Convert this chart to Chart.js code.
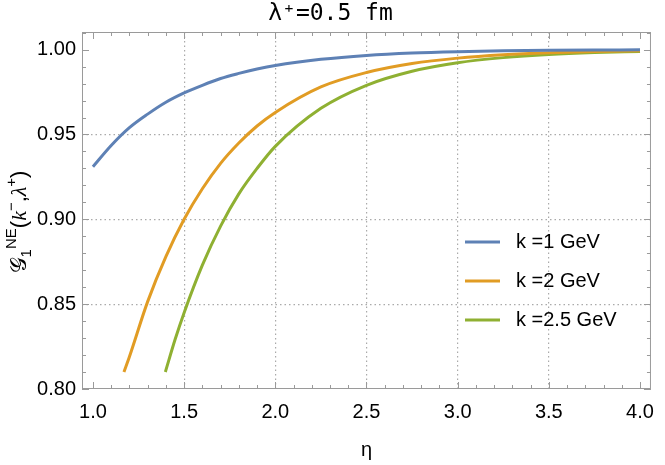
<!DOCTYPE html>
<html>
<head>
<meta charset="utf-8">
<script src="https://cdn.jsdelivr.net/npm/chart.js@4.4.0/dist/chart.umd.min.js"></script>
<style>
html, body { margin: 0; padding: 0; background: #fff; }
</style>
</head>
<body>
<canvas id="myChart" width="665" height="465"></canvas>
<script>
// podatki, odcitani s slike
const seriesLabels = ["k =1 GeV", "k =2 GeV", "k =2.5 GeV"];
const seriesColors = ["#5e81b5", "#e19c24", "#8fb032"];

const eta1 = [1.0, 1.1, 1.2, 1.3, 1.4, 1.5, 1.6, 1.7, 1.8, 1.9, 2.0, 2.25, 2.5, 2.75, 3.0, 3.25, 3.5, 3.75, 4.0];
const g1 = [0.931, 0.9435, 0.954, 0.962, 0.969, 0.9745, 0.979, 0.983, 0.986, 0.9886, 0.9907, 0.9943, 0.9966, 0.998, 0.9988, 0.9993, 0.9996, 0.9998, 0.9999];

const eta2 = [1.17, 1.2, 1.3, 1.4, 1.5, 1.6, 1.7, 1.8, 1.9, 2.0, 2.25, 2.5, 2.75, 3.0, 3.25, 3.5, 3.75, 4.0];
const g2 = [0.810, 0.819, 0.8515, 0.878, 0.900, 0.918, 0.933, 0.945, 0.955, 0.963, 0.978, 0.9865, 0.9918, 0.995, 0.997, 0.9982, 0.9989, 0.9993];

const eta3 = [1.397, 1.45, 1.5, 1.6, 1.7, 1.8, 1.9, 2.0, 2.25, 2.5, 2.75, 3.0, 3.25, 3.5, 3.75, 4.0];
const g3 = [0.810, 0.829, 0.845, 0.873, 0.896, 0.915, 0.930, 0.943, 0.9654, 0.979, 0.9873, 0.9923, 0.9953, 0.9972, 0.9983, 0.9989];

const xTicks = [1.0, 1.5, 2.0, 2.5, 3.0, 3.5, 4.0];
const yTicks = [0.80, 0.85, 0.90, 0.95, 1.00];
const xGrid = [1.5, 2.0, 2.5, 3.0, 3.5];
const yGrid = [0.85, 0.90, 0.95];

function toPoints(xs, ys) {
    return xs.map((v, i) => ({ x: v, y: ys[i] }));
}

// okvir z notranjimi oznakami (kot v Mathematici)
const framePlugin = {
    id: "frame",
    afterDraw(chart) {
        const { ctx, chartArea: a, scales } = chart;
        const x = scales.x, y = scales.y;
        ctx.save();
        ctx.strokeStyle = "#9a9a9a";
        ctx.lineWidth = 1;
        ctx.strokeRect(a.left + 0.5, a.top + 0.5, a.right - a.left - 1, a.bottom - a.top - 1);
        ctx.beginPath();
        for (let i = 10; i <= 40; i++) {
            const px = Math.round(x.getPixelForValue(i / 10)) + 0.5;
            const len = i % 5 === 0 ? 7 : 4;
            ctx.moveTo(px, a.bottom);
            ctx.lineTo(px, a.bottom - len);
            ctx.moveTo(px, a.top);
            ctx.lineTo(px, a.top + len);
        }
        for (let i = 80; i <= 101; i++) {
            const py = Math.round(y.getPixelForValue(i / 100)) + 0.5;
            const len = i % 5 === 0 ? 7 : 4;
            ctx.moveTo(a.left, py);
            ctx.lineTo(a.left + len, py);
            ctx.moveTo(a.right, py);
            ctx.lineTo(a.right - len, py);
        }
        ctx.stroke();
        ctx.restore();
    }
};

// legenda znotraj grafa
const legendPlugin = {
    id: "innerLegend",
    afterDraw(chart) {
        const ctx = chart.ctx;
        ctx.save();
        ctx.font = "20px 'Liberation Sans', Arial, sans-serif";
        ctx.textBaseline = "middle";
        ctx.fillStyle = "#000";
        chart.data.datasets.forEach((ds, i) => {
            const yy = 242 + i * 39;
            ctx.strokeStyle = ds.borderColor;
            ctx.lineWidth = 3;
            ctx.beginPath();
            ctx.moveTo(465, yy);
            ctx.lineTo(500, yy);
            ctx.stroke();
            ctx.fillText(ds.label, 516, yy);
        });
        ctx.restore();
    }
};

// naslov y osi z indeksi
const yTitlePlugin = {
    id: "yTitle",
    afterDraw(chart) {
        const ctx = chart.ctx;
        const big = "22px 'Liberation Sans', Arial, sans-serif";
        const small = "15px 'Liberation Sans', Arial, sans-serif";
        const ital = "italic 22px 'Liberation Serif', serif";
        const pieces = [
            { t: "\u{1D4A2}", f: "22px 'DejaVu Sans', serif", dy: 0 },
            { t: "1", f: small, dy: 5 },
            { t: "NE", f: small, dy: -10 },
            { t: "(", f: big, dy: 0 },
            { t: "k", f: ital, dy: 0 },
            { t: "\u2212", f: small, dy: -10 },
            { t: ",", f: big, dy: 0 },
            { t: "\u03BB", f: ital, dy: 0 },
            { t: "+", f: small, dy: -10 },
            { t: ")", f: big, dy: 0 }
        ];
        ctx.save();
        let total = 0;
        pieces.forEach((p) => {
            ctx.font = p.f;
            p.w = ctx.measureText(p.t).width;
            total += p.w;
        });
        ctx.translate(26, 222);
        ctx.rotate(-Math.PI / 2);
        ctx.fillStyle = "#000";
        ctx.textBaseline = "alphabetic";
        let pos = -total / 2;
        pieces.forEach((p) => {
            ctx.font = p.f;
            ctx.fillText(p.t, pos, p.dy);
            pos += p.w;
        });
        ctx.restore();
    }
};

const ctx1 = document.getElementById("myChart");

new Chart(ctx1, {
    type: "line",
    data: {
        datasets: [
            { label: seriesLabels[0], data: toPoints(eta1, g1), borderColor: seriesColors[0] },
            { label: seriesLabels[1], data: toPoints(eta2, g2), borderColor: seriesColors[1] },
            { label: seriesLabels[2], data: toPoints(eta3, g3), borderColor: seriesColors[2] }
        ]
    },
    options: {
        responsive: false,
        animation: false,
        layout: { padding: { left: 0, right: 4, top: 0, bottom: 0 } },
        elements: {
            point: { radius: 0 },
            line: { borderWidth: 3, fill: false, cubicInterpolationMode: "monotone" }
        },
        plugins: {
            legend: { display: false },
            tooltip: { enabled: false },
            title: {
                display: true,
                text: "\u03BB\u207A=0.5 fm",
                color: "#000",
                font: { family: "'DejaVu Sans Mono', monospace", size: 23, weight: "normal", lineHeight: 1.2 },
                padding: { top: 0, bottom: 4.4 }
            }
        },
        scales: {
            x: {
                type: "linear",
                min: 0.94,
                max: 4.06,
                afterBuildTicks: (scale) => {
                    scale.ticks = xTicks.map((v) => ({ value: v }));
                },
                afterFit: (scale) => {
                    scale.height = 76;
                },
                ticks: {
                    color: "#000",
                    padding: 11,
                    maxRotation: 0,
                    font: { family: "'Liberation Sans', Arial, sans-serif", size: 20 },
                    callback: (v) => v.toFixed(1)
                },
                grid: {
                    drawTicks: false,
                    color: (c) => (c.tick && xGrid.includes(c.tick.value) ? "#aaaaaa" : "rgba(0,0,0,0)"),
                    lineWidth: 1.2
                },
                border: { display: false, dash: [1.5, 3] },
                title: {
                    display: true,
                    text: "\u03B7",
                    color: "#000",
                    font: { family: "'Liberation Sans', Arial, sans-serif", size: 20 },
                    padding: { top: 0, bottom: 3 }
                }
            },
            y: {
                type: "linear",
                min: 0.80,
                max: 1.0104,
                afterBuildTicks: (scale) => {
                    scale.ticks = yTicks.map((v) => ({ value: v }));
                },
                afterFit: (scale) => {
                    scale.width = 82;
                },
                ticks: {
                    color: "#000",
                    padding: 6,
                    font: { family: "'Liberation Sans', Arial, sans-serif", size: 20 },
                    callback: (v) => v.toFixed(2)
                },
                grid: {
                    drawTicks: false,
                    color: (c) => (c.tick && yGrid.includes(c.tick.value) ? "#aaaaaa" : "rgba(0,0,0,0)"),
                    lineWidth: 1.2
                },
                border: { display: false, dash: [1.5, 3] }
            }
        }
    },
    plugins: [framePlugin, legendPlugin, yTitlePlugin]
});
</script>
</body>
</html>
